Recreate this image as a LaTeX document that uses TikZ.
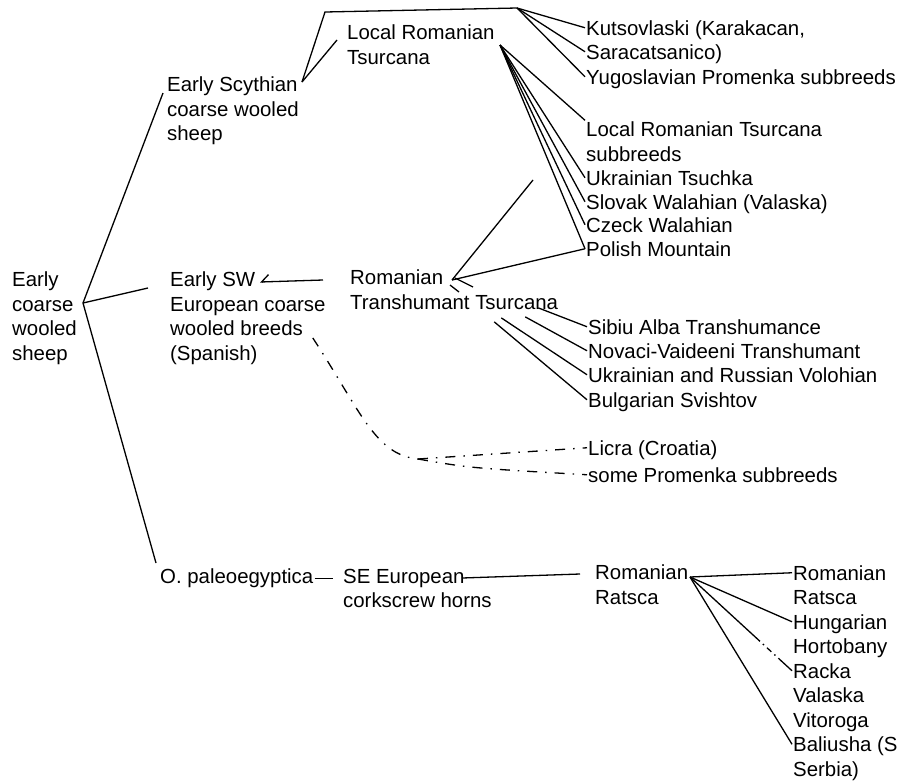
\documentclass[tikz,border=0pt]{standalone}
\usepackage{fontspec}
\setmainfont{Liberation Sans}
\usepackage{tikz}
\usetikzlibrary{positioning}
\usetikzlibrary{calc}
\usetikzlibrary{arrows.meta}
\tikzset{
    every picture/.append style={
        >={Straight Barb[harpoon,swap,length=2.5mm]}
    }
}
\tikzset{
    stock/.style={anchor=north west, inner sep=1pt, align=left, font=\fontsize{20.4}{24.5}\selectfont},
    breed/.style={anchor=base west, inner sep=1pt, text height=14.5pt, text depth=0pt, font=\fontsize{20.4}{24.5}\selectfont},
    branch/.style={line width=1.3pt},
    uncertain/.style={line width=1.3pt, dash pattern=on 10pt off 8pt on 1.5pt off 8pt},
}

\begin{document}
\begin{tikzpicture}[x=1pt, y=-1pt]
		\useasboundingbox (0,0) rectangle (901,780);
		% ancestors and main lines
		\node[stock] (root) at (11,271) {Early\\coarse\\wooled\\sheep};
		\node[stock] (scyth) at (166,76) {Early Scythian\\coarse wooled\\sheep};
		\node[stock] (esw) at (169,271) {Early SW\\European coarse\\wooled breeds\\(Spanish)};
		\node[stock] (paleo) at (159,568) {O. paleoegyptica};
		\node[stock] (lrt) at (346,24) {Local Romanian\\Tsurcana};
		\node[stock] (rtt) at (349,269) {Romanian\\Transhumant Tsurcana};
		\node[stock] (secork) at (342,568) {SE European\\corkscrew horns};
		\node[stock] (ratsca) at (594,564) {Romanian\\Ratsca};
		
		% breeds
		\node[breed] (kuts1) at (585,35) {Kutsovlaski (Karakacan,};
		\node[breed] (kuts2) at (585,59) {Saracatsanico)};
		\node[breed] (yugo) at (585,84) {Yugoslavian Promenka subbreeds};
		\node[breed] (lrts1) at (585,136) {Local Romanian Tsurcana};
		\node[breed] (lrts2) at (585,161) {subbreeds};
		\node[breed] (ukr) at (585,185) {Ukrainian Tsuchka};
		\node[breed] (slov) at (585,209) {Slovak Walahian (Valaska)};
		\node[breed] (czeck) at (585,232) {Czeck Walahian};
		\node[breed] (polish) at (585,256) {Polish Mountain};
		
		\node[breed] (sibiu) at (587,334) {Sibiu Alba Transhumance};
		\node[breed] (novaci) at (587,358) {Novaci-Vaideeni Transhumant};
		\node[breed] (volo) at (587,382) {Ukrainian and Russian Volohian};
		\node[breed] (bulg) at (587,407) {Bulgarian Svishtov};
		\node[breed] (licra) at (587,455) {Licra (Croatia)};
		\node[breed] (prom) at (587,482) {some Promenka subbreeds};
		
		\node[breed] (rr1) at (792,580) {Romanian};
		\node[breed] (rr2) at (792,604.5) {Ratsca};
		\node[breed] (hu1) at (792,629) {Hungarian};
		\node[breed] (hu2) at (792,653.5) {Hortobany};
		\node[breed] (racka) at (792,678) {Racka};
		\node[breed] (valaska) at (792,702.5) {Valaska};
		\node[breed] (vitoroga) at (792,727) {Vitoroga};
		\node[breed] (bal1) at (792,751.5) {Baliusha (S};
		\node[breed] (bal2) at (792,776) {Serbia)};
		
		% junctions
		\coordinate (rootj) at (83,303);
		\coordinate (scythj) at (302,82);
		\coordinate (bend) at (325,12);
		\coordinate (topj) at (517,8);
		\coordinate (lrtj) at (500,45);
		\coordinate (rttj) at (452,280);
		\coordinate (loose) at (533,180);
		\coordinate (fork) at (418,459);
		\coordinate (ratj) at (690,577);
		
		\path [branch] (rootj) edge ([shift={(-3,17)}]scyth.north west);
		\path [branch] (rootj) edge ([shift={(-21,17)}]esw.north west);
		\path [branch] (rootj) edge ([shift={(-3,-5)}]paleo.north west);
		\draw [branch] (scythj) -- (bend) -- (topj);
		\path [branch] (scythj) edge ([shift={(-9,16)}]lrt.north west);
		
		\path [branch] (topj) edge (kuts1.west);
		\path [branch] (topj) edge (kuts2.west);
		\path [branch] (topj) edge (yugo.west);
		
		\path [branch] (lrtj) edge (lrts1.north west);
		\path [branch] (lrtj) edge (ukr.west);
		\path [branch] (lrtj) edge (slov.west);
		\path [branch] (lrtj) edge (czeck.west);
		\path [branch] (lrtj) edge (polish.west);
		
		\path [branch] (rttj) edge (loose);
		\path [branch] (rttj) edge (polish.west);
		\draw [branch] ([shift={(3,-2)}]rttj) -- ++(18,9);
		\draw [branch] ([shift={(-2,5)}]rttj) -- ++(9,7);
		\draw [branch,->] ([shift={(-26,11)}]rtt.north west) -- ([shift={(91,11)}]esw.north west);
		
		\path [branch] ([shift={(-21,-3)}]rtt.south east) edge (sibiu.west);
		\path [branch] ([shift={(-34,6)}]rtt.south east) edge (novaci.west);
		\path [branch] ([shift={(-58,7)}]rtt.south east) edge (volo.west);
		\path [branch] ([shift={(-65,11)}]rtt.south east) edge (bulg.west);
		
		\draw [uncertain] ([shift={(-14,-28)}]esw.south east) .. controls (360,410) and (375,455) .. (fork);
		\draw [uncertain] (fork) -- (licra.west);
		\draw [uncertain] (fork) .. controls (470,468) .. (prom.west);
		
		\draw [branch, shorten >=9pt] (paleo.east) -- (paleo.east -| secork.west);
		\draw [branch] ([shift={(120,10)}]secork.north west) -- ([shift={(-14,10)}]ratsca.north west);
		
		\path [branch] (ratj) edge (rr1.west);
		\path [branch] (ratj) edge (hu1.west);
		\path [branch, dash pattern=on 95pt off 4pt on 1.5pt off 4pt on 6pt off 4pt on 1.5pt off 4pt on 40pt] (ratj) edge (racka.west);
		\path [branch] (ratj) edge (bal1.west);
		\end{tikzpicture}
\end{document}
